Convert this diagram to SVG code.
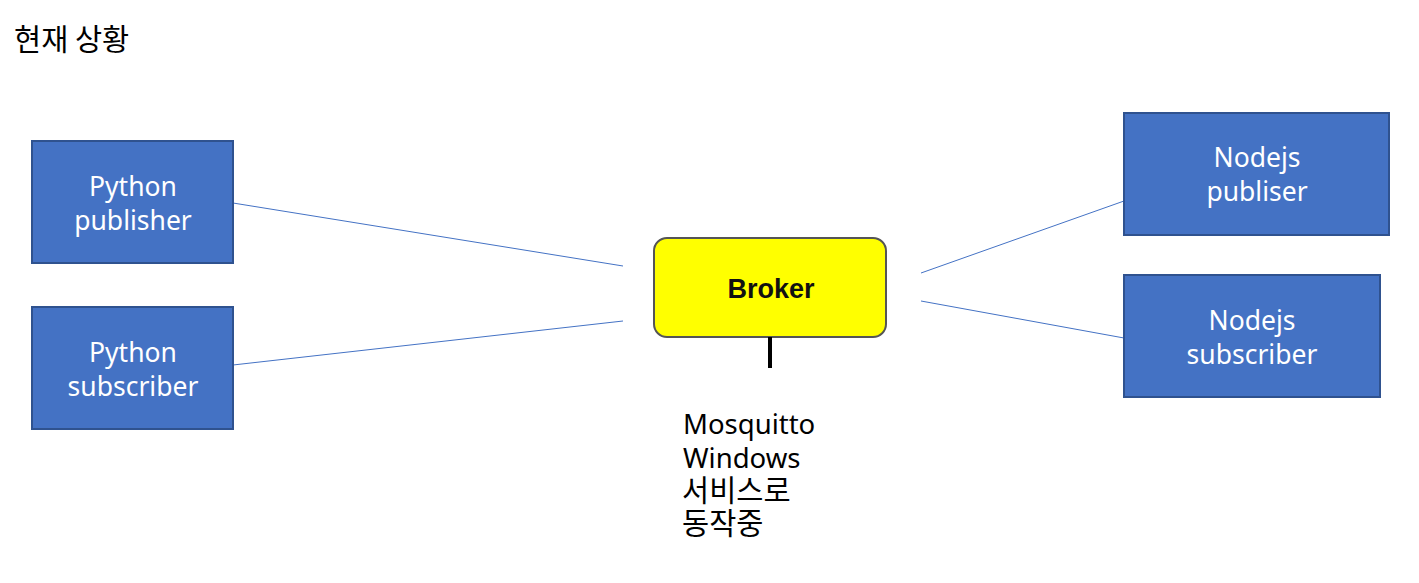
<svg xmlns="http://www.w3.org/2000/svg" width="1419" height="583" viewBox="0 0 1419 583">
<style>
.box{fill:#4472C4;stroke:#2F528F;stroke-width:2}
.wt{fill:#fff;font-family:"Noto Sans","Noto Sans CJK KR",sans-serif;font-size:26.5px;text-anchor:middle}
.bt{fill:#000;font-family:"Noto Sans","Noto Sans CJK KR",sans-serif;font-size:27.5px}
.kt{fill:#000;font-family:"Noto Sans CJK KR","Noto Sans",sans-serif;font-size:29.5px}
.conn{stroke:#4472C4;stroke-width:1;fill:none}
</style>
<rect width="1419" height="583" fill="#fff"/>
<text class="kt" x="14" y="50">현재 상황</text>
<g id="connectors">
<line class="conn" x1="233" y1="203" x2="623" y2="266"/>
<line class="conn" x1="233" y1="365" x2="623" y2="321"/>
<line class="conn" x1="921" y1="273" x2="1124" y2="201"/>
<line class="conn" x1="921" y1="301" x2="1124" y2="338"/>
</g>
<g id="python-publisher">
<rect class="box" x="32" y="141" width="201" height="122"/>
<text class="wt" x="133" y="196">Python</text>
<text class="wt" x="133" y="230">publisher</text>
</g>
<g id="python-subscriber">
<rect class="box" x="32" y="307" width="201" height="122"/>
<text class="wt" x="133" y="362">Python</text>
<text class="wt" x="133" y="396">subscriber</text>
</g>
<g id="nodejs-publiser">
<rect class="box" x="1124" y="113" width="265" height="122"/>
<text class="wt" x="1257" y="167">Nodejs</text>
<text class="wt" x="1257" y="201">publiser</text>
</g>
<g id="nodejs-subscriber">
<rect class="box" x="1124" y="275" width="256" height="122"/>
<text class="wt" x="1252" y="330">Nodejs</text>
<text class="wt" x="1252" y="364">subscriber</text>
</g>
<g id="broker">
<rect x="654" y="238" width="232" height="99" rx="13" fill="#FFFF00" stroke="#555" stroke-width="2"/>
<line x1="770" y1="337" x2="770" y2="368" stroke="#000" stroke-width="4"/>
<text x="771" y="298" font-family="Liberation Sans,Arial,sans-serif" font-weight="bold" font-size="27" text-anchor="middle" fill="#111">Broker</text>
</g>
<g id="mosquitto-note">
<text class="bt" x="683" y="434">Mosquitto<tspan x="683" y="468">Windows</tspan><tspan class="kt" x="682" y="501">서비스로</tspan><tspan class="kt" x="682" y="534">동작중</tspan></text>
</g>
</svg>
